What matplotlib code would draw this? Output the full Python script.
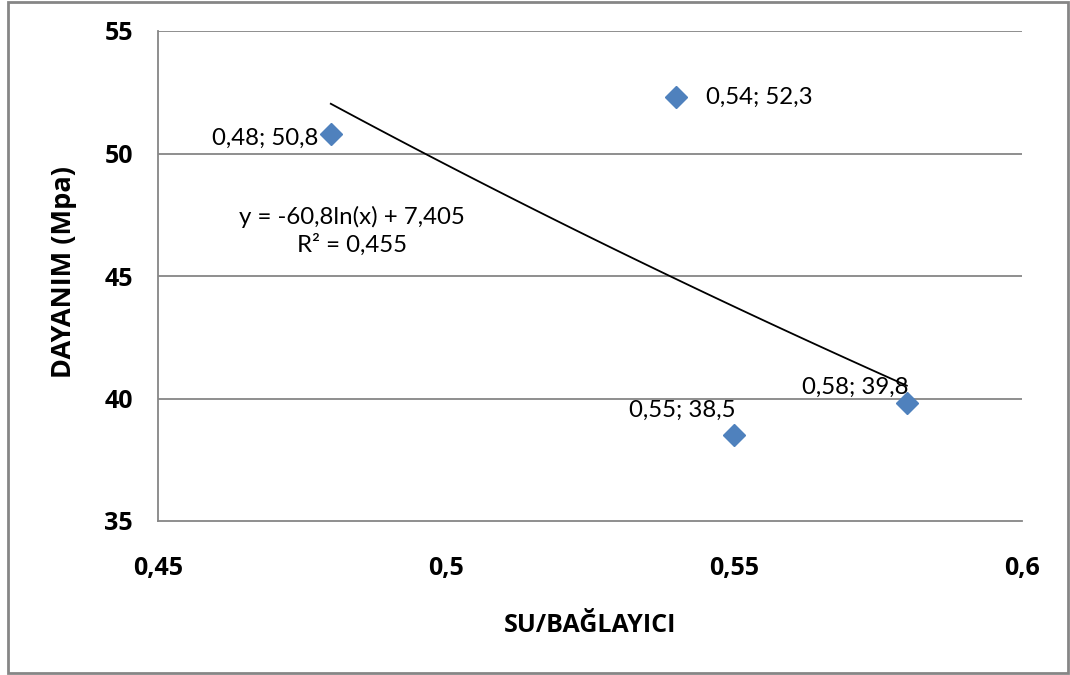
import numpy as np
import matplotlib
matplotlib.use("Agg")
import matplotlib.pyplot as plt
from matplotlib.patches import Rectangle

# Data
su_baglayici = [0.48, 0.54, 0.55, 0.58]
dayanim = [50.8, 52.3, 38.5, 39.8]
point_labels = ["0,48; 50,8", "0,54; 52,3", "0,55; 38,5", "0,58; 39,8"]
x_ticks = [0.45, 0.5, 0.55, 0.6]
x_tick_labels = ["0,45", "0,5", "0,55", "0,6"]
y_ticks = [35, 40, 45, 50, 55]
trend_a = -60.8
trend_b = 7.405
equation_text = "y = -60,8ln(x) + 7,405\nR² = 0,455"

plt.rcParams['font.family'] = ['Lato', 'DejaVu Sans']
BOLD = ['Open Sans', 'Noto Sans', 'DejaVu Sans']

fig = plt.figure(figsize=(10.7, 6.75), dpi=100)
ax = fig.add_axes([158/1070, 1 - 521/675, (1022-158)/1070, (521-31)/675])

ax.set_xlim(0.45, 0.6)
ax.set_ylim(35, 55)

# gridlines
for yv in y_ticks[1:]:
    ax.axhline(yv, color='#868686', lw=1.3, zorder=1)

for side in ['top', 'right']:
    ax.spines[side].set_visible(False)
for side in ['left', 'bottom']:
    ax.spines[side].set_color('#868686')
    ax.spines[side].set_linewidth(1.3)

ax.set_xticks(x_ticks)
ax.set_xticklabels(x_tick_labels)
ax.set_yticks(y_ticks)
ax.tick_params(axis='both', length=0)
ax.tick_params(axis='x', pad=25)
ax.tick_params(axis='y', pad=18)
for lbl in ax.get_xticklabels() + ax.get_yticklabels():
    lbl.set_fontweight('bold')
    lbl.set_family(BOLD)
    lbl.set_fontsize(18)

# trend line
xs = np.linspace(min(su_baglayici), max(su_baglayici), 100)
ax.plot(xs, trend_a * np.log(xs) + trend_b, color='black', lw=1.3, zorder=2)

# points
ax.plot(su_baglayici, dayanim, linestyle='none', marker='D', markersize=11,
        color='#4F81BD', zorder=3)

offsets = [(-9, -3, 'right'), (21, 0, 'left'), (1, 18, 'right'), (1, 11.5, 'right')]
for xv, yv, lab, (dx, dy, ha) in zip(su_baglayici, dayanim, point_labels, offsets):
    ax.annotate(lab, (xv, yv), xytext=(dx, dy), textcoords='offset points',
                ha=ha, va='center', fontsize=17.3, color='black', zorder=4)

ax.text(352/1070, 1 - 231/675, equation_text, transform=fig.transFigure,
        ha='center', va='center', fontsize=17.3, linespacing=1.3)

fig.text(64/1070, 1 - 272/675, "DAYANIM (Mpa)", rotation=90, ha='center',
         va='center', fontsize=19.5, fontweight='bold', family=BOLD)
fig.text(590/1070, 1 - 625/675, "SU/BAĞLAYICI", ha='center', va='center',
         fontsize=18, fontweight='bold', family=BOLD)

# outer frame
fig.patches.append(Rectangle((8/1070, 2/675), (1068-8)/1070, (673-2)/675,
                             transform=fig.transFigure, fill=False,
                             edgecolor='#868686', lw=2))

fig.savefig("out.png", dpi=100)
